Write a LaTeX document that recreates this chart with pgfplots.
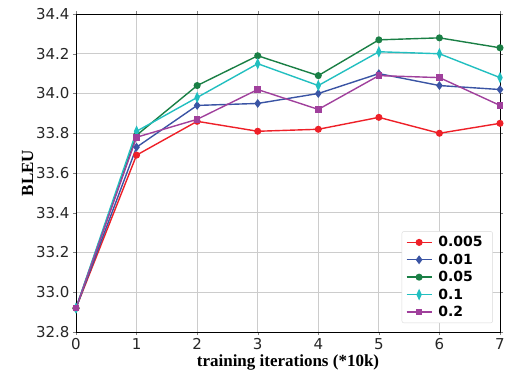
\documentclass[border=0pt]{standalone}
\usepackage{fontspec}
\setmainfont{DejaVu Sans}
\newfontfamily\serifbold{Liberation Serif}
\usepackage{pgfplots}
\pgfplotsset{compat=1.18}
\definecolor{cred}{HTML}{EE2028}
\definecolor{cblue}{HTML}{3A54A4}
\definecolor{cgreen}{HTML}{1A7F45}
\definecolor{ccyan}{HTML}{22BFC0}
\definecolor{cmag}{HTML}{A0409C}
\begin{document}
\begin{tikzpicture}
\useasboundingbox (-76pt,-41pt) rectangle (432pt,332pt);
\begin{axis}[
  at={(0,0)}, anchor=south west,
  scale only axis, width=424pt, height=318pt,
  xmin=0, xmax=7, ymin=32.8, ymax=34.4,
  xtick={0,...,7}, ytick={32.8,33.0,...,34.4},
  /pgf/number format/assume math mode=true,
  yticklabel style={/pgf/number format/fixed,/pgf/number format/fixed zerofill,/pgf/number format/precision=1},
  ticklabel style={font=\fontsize{15}{16}\selectfont, text=black!85},
  grid=major, grid style={gray!40, line width=0.8pt},
  tick align=outside, major tick length=3pt,
  axis line style={black, line width=0.8pt},
  xlabel={\fontsize{17}{18}\selectfont\serifbold\bfseries training iterations (*10k)},
  ylabel={\fontsize{17}{18}\selectfont\serifbold\bfseries BLEU},
  xlabel style={yshift=2.5pt},
  ylabel style={yshift=-4pt},
  legend style={font=\bfseries\fontsize{14}{15}\selectfont, draw=gray!30, rounded corners=2pt, at={(0.983,0.028)}, anchor=south east, row sep=1.5pt, inner sep=3pt, inner xsep=4pt,
    nodes={inner xsep=6pt}},
  legend cell align=left,
  legend image code/.code={\draw[mark repeat=2,mark phase=2] plot coordinates {(0pt,0pt)(12.5pt,0pt)(25pt,0pt)};},
  every axis plot/.append style={line width=1.4pt, mark size=2.8pt},
]
\addplot[cred, mark=*] coordinates {(0,32.92)(1,33.69)(2,33.86)(3,33.81)(4,33.82)(5,33.88)(6,33.80)(7,33.85)};
\addlegendentry{0.005}
\addplot[cblue, mark=diamond*, mark size=3.3pt] coordinates {(0,32.92)(1,33.73)(2,33.94)(3,33.95)(4,34.00)(5,34.10)(6,34.04)(7,34.02)};
\addlegendentry{0.01}
\addplot[cgreen, mark=*] coordinates {(0,32.92)(1,33.79)(2,34.04)(3,34.19)(4,34.09)(5,34.27)(6,34.28)(7,34.23)};
\addlegendentry{0.05}
\addplot[ccyan, mark=diamond*, mark options={yscale=1.3,xscale=0.8}, mark size=3.2pt] coordinates {(0,32.92)(1,33.81)(2,33.98)(3,34.15)(4,34.04)(5,34.21)(6,34.20)(7,34.08)};
\addlegendentry{0.1}
\addplot[cmag, mark=square*, mark size=2.6pt] coordinates {(0,32.92)(1,33.78)(2,33.87)(3,34.02)(4,33.92)(5,34.09)(6,34.08)(7,33.94)};
\addlegendentry{0.2}
\end{axis}
\end{tikzpicture}
\end{document}
